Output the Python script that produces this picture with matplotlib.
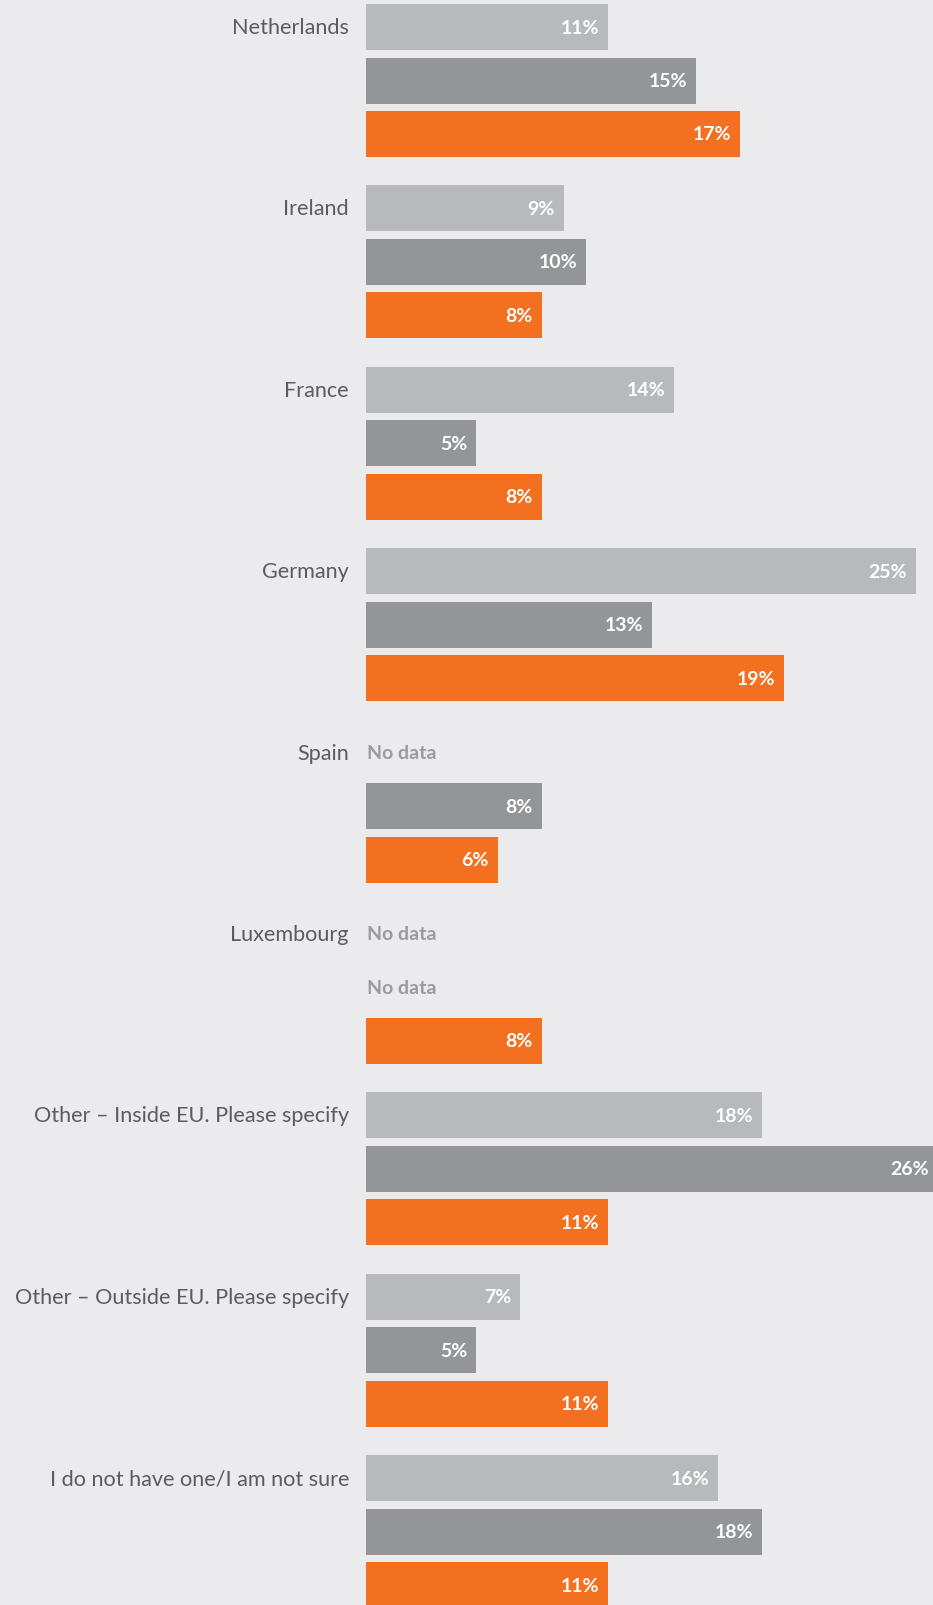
import matplotlib
matplotlib.use("Agg")
import matplotlib.pyplot as plt

plt.rcParams['font.family'] = ['Lato', 'DejaVu Sans']

categories = ['Netherlands', 'Ireland', 'France', 'Germany', 'Spain', 'Luxembourg',
              'Other \u2013 Inside EU. Please specify',
              'Other \u2013 Outside EU. Please specify',
              'I do not have one/I am not sure']
# three survey waves per category, None = no data
series_a = [11, 9, 14, 25, None, None, 18, 7, 16]
series_b = [15, 10, 5, 13, 8, None, 26, 5, 18]
series_c = [17, 8, 8, 19, 6, 8, 11, 11, 11]
colors = ['#b8b9bc', '#949598', '#f37021']

bg = '#ebebed'
W, H = 933, 1606
fig = plt.figure(figsize=(W / 100, H / 100), dpi=100, facecolor=bg)
x0 = 366  # left edge of bars, px
px_per_pct = 22.0
ax = fig.add_axes([x0 / W, 0, 1 - x0 / W, 1])
ax.set_facecolor(bg)
ax.set_xlim(0, (W - x0) / px_per_pct)
ax.set_ylim(H, 0)
ax.axis('off')

group_pitch = 181.4
bar_pitch = 53.5
bar_h = 46
top = 5

for i, cat in enumerate(categories):
    for j, (vals, col) in enumerate(zip([series_a, series_b, series_c], colors)):
        yc = top + i * group_pitch + j * bar_pitch + bar_h / 2
        v = vals[i]
        if v is None:
            ax.text(0.05, yc, 'No data', ha='left', va='center', fontsize=14,
                    fontweight='bold', color='#9a9b9e')
            continue
        ax.barh(yc, v, height=bar_h, color=col, left=0)
        ax.text(v - 9 / px_per_pct, yc, f'{v}%', ha='right', va='center',
                fontsize=14, fontweight='bold', color='white', clip_on=True)
    yc0 = top + i * group_pitch + bar_h / 2
    fig.text(349 / W, 1 - yc0 / H, cat, ha='right', va='center', fontsize=15.6,
             fontweight='normal', color='#5c5c60')

fig.savefig('out.png', dpi=100, facecolor=bg)
